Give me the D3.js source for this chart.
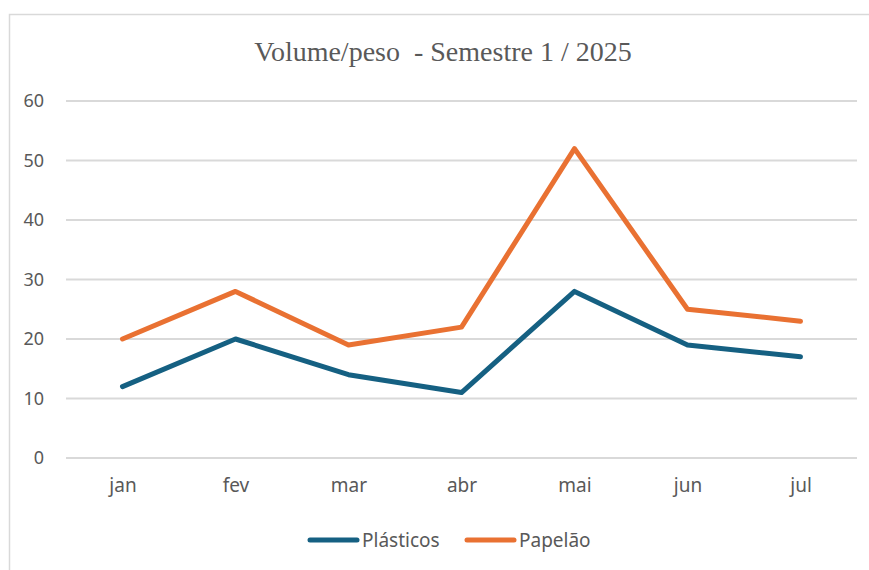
<!DOCTYPE html>
<html>
<head>
<meta charset="utf-8">
<script src="https://cdn.jsdelivr.net/npm/d3@7"></script>
<style>
  body { margin: 0; background: #fff; }
  svg { display: block; }
</style>
</head>
<body>
<svg width="869" height="570"></svg>
<script>
// chart data
var months = ["jan", "fev", "mar", "abr", "mai", "jun", "jul"];
var plasticos = [12, 20, 14, 11, 28, 19, 17];
var papelao = [20, 28, 19, 22, 52, 25, 23];
var yTicks = [0, 10, 20, 30, 40, 50, 60];

var series = [
  {name: "Plásticos", values: plasticos, color: "#156082"},
  {name: "Papelão", values: papelao, color: "#E97132"}
];

var svg = d3.select("svg"),
  margin = {top: 101, right: 12, bottom: 112, left: 66},
  width = +svg.attr("width") - margin.left - margin.right,
  height = +svg.attr("height") - margin.top - margin.bottom;

// outer frame (runs off right/bottom edge like the screenshot)
svg.append("rect")
    .attr("x", 9.5).attr("y", 14.5)
    .attr("width", 900).attr("height", 600)
    .attr("fill", "none")
    .attr("stroke", "#d9d9d9")
    .attr("stroke-width", 1.5);

svg.append("text")
    .attr("x", 443)
    .attr("y", 61)
    .attr("text-anchor", "middle")
    .style("font-family", "'Liberation Serif', 'Times New Roman', serif")
    .style("font-size", "28px")
    .style("white-space", "pre")
    .attr("fill", "#595959")
    .text("Volume/peso  - Semestre 1 / 2025");

var g = svg.append("g").attr("transform", "translate(" + margin.left + "," + margin.top + ")");

var x = d3.scalePoint().domain(months).range([0, width]).padding(0.5);
var y = d3.scaleLinear().domain([0, 60]).range([height, 0]);

var labelFont = "'Noto Sans', 'Open Sans', sans-serif";

// gridlines
g.append("g")
    .attr("class", "grid")
    .selectAll("line")
    .data(yTicks)
    .enter().append("line")
    .attr("x1", 0).attr("x2", width)
    .attr("y1", function(d) { return y(d); })
    .attr("y2", function(d) { return y(d); })
    .attr("stroke", "#d9d9d9")
    .attr("stroke-width", 2);

var yAxis = g.append("g")
    .call(d3.axisLeft(y).tickValues(yTicks).tickSize(0).tickPadding(22));
yAxis.select(".domain").remove();
yAxis.selectAll("text")
    .style("font-family", labelFont)
    .style("font-size", "18px")
    .attr("fill", "#595959");

var xAxis = g.append("g")
    .attr("transform", "translate(0," + height + ")")
    .call(d3.axisBottom(x).tickSize(0).tickPadding(21));
xAxis.select(".domain").remove();
xAxis.selectAll("text")
    .style("font-family", labelFont)
    .style("font-size", "19px")
    .attr("fill", "#595959");

var line = d3.line()
    .x(function(d, i) { return x(months[i]); })
    .y(function(d) { return y(d); });

g.selectAll(".serie")
    .data(series)
    .enter().append("path")
    .attr("class", "serie")
    .attr("d", function(d) { return line(d.values); })
    .attr("fill", "none")
    .attr("stroke", function(d) { return d.color; })
    .attr("stroke-width", 5)
    .attr("stroke-linejoin", "round")
    .attr("stroke-linecap", "round");

// legend
var legendX = [308, 465];
var legend = svg.selectAll(".legend")
    .data(series)
    .enter().append("g")
    .attr("class", "legend")
    .attr("transform", function(d, i) { return "translate(" + legendX[i] + ",540)"; });

legend.append("line")
    .attr("x1", 2).attr("x2", 49)
    .attr("stroke", function(d) { return d.color; })
    .attr("stroke-width", 5)
    .attr("stroke-linecap", "round");

legend.append("text")
    .attr("x", 54)
    .attr("dy", "0.35em")
    .style("font-family", labelFont)
    .style("font-size", "19px")
    .attr("fill", "#595959")
    .text(function(d) { return d.name; });
</script>
</body>
</html>
